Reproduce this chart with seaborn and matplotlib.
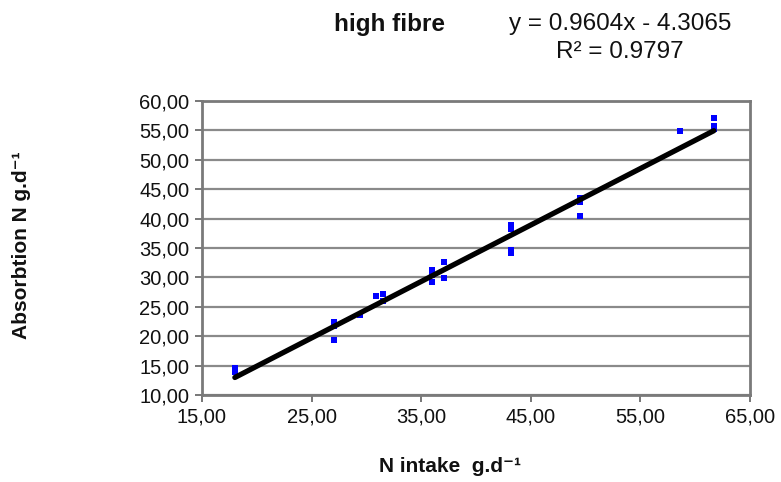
import matplotlib
matplotlib.use("Agg")
import matplotlib.pyplot as plt
import matplotlib.ticker as mticker
import numpy as np
import pandas as pd
import seaborn as sns

# Data
n_intake = [18.0, 18.0,
            27.0, 27.0, 27.0,
            29.4, 30.9, 31.5, 31.5,
            36.0, 36.0, 36.0,
            37.1, 37.1,
            43.2, 43.2, 43.2, 43.2,
            49.5, 49.5, 49.5,
            58.6,
            61.7, 61.7, 61.7]
absorption = [14.6, 13.9,
              22.5, 21.8, 19.3,
              23.6, 26.8, 27.2, 26.0,
              31.2, 30.4, 29.2,
              32.7, 29.9,
              38.9, 38.2, 34.7, 34.1,
              43.5, 42.9, 40.5,
              54.9,
              57.05, 55.75, 55.2]
slope = 0.9604
intercept = -4.3065
r2 = 0.9797
x_ticks = [15, 25, 35, 45, 55, 65]
y_ticks = [10, 15, 20, 25, 30, 35, 40, 45, 50, 55, 60]

sns.set_theme(style="white")
plt.rcParams['font.family'] = ['Liberation Sans', 'DejaVu Sans']

df = pd.DataFrame({"x": n_intake, "y": absorption})
fit_x = np.array([min(n_intake), max(n_intake)])
fit_df = pd.DataFrame({"x": fit_x, "y": slope * fit_x + intercept})

fig = plt.figure(figsize=(7.81, 4.82), dpi=100)
ax = fig.add_axes([202/781, 1-395/482, (750-202)/781, (395-101)/482])

sns.scatterplot(data=df, x="x", y="y", ax=ax, marker="s", s=22,
                color="#0000FF", edgecolor="#0000FF", linewidth=0, zorder=3)
sns.lineplot(data=fit_df, x="x", y="y", ax=ax, color="black", linewidth=3.8,
             zorder=4, solid_capstyle="round")

ax.set_xlim(15, 65)
ax.set_ylim(10, 60)
ax.set_xticks(x_ticks)
ax.set_yticks(y_ticks)
fmt = mticker.FuncFormatter(lambda v, p: f"{v:.2f}".replace(".", ","))
ax.xaxis.set_major_formatter(fmt)
ax.yaxis.set_major_formatter(fmt)
ax.tick_params(axis="both", labelsize=14.5, labelcolor="#111111", length=5,
               width=1.2, direction="out", bottom=True, left=True, pad=4,
               color="#606060")
ax.yaxis.grid(True, color="#8a8a8a", linewidth=1.6)
ax.xaxis.grid(False)
for s in ax.spines.values():
    s.set_color("#7a7a7a")
    s.set_linewidth(2)
ax.set_xlabel("")
ax.set_ylabel("")

fig.text(450/781, 1-467/482, "N intake  g.d\u207b\u00b9", ha="center", va="center",
         fontsize=15, fontweight="bold", color="#111111")
fig.text(22/781, 1-245/482, "Absorbtion N g.d\u207b\u00b9", ha="center", va="center",
         rotation=90, fontsize=15, fontweight="bold", color="#111111")
fig.text(390/781, 1-24/482, "high fibre", ha="center", va="center",
         fontsize=17.5, fontweight="bold", color="#111111")
fig.text(620/781, 1-24/482, f"y = {slope}x - {abs(intercept)}", ha="center", va="center",
         fontsize=17.5, color="#111111")
fig.text(620/781, 1-52/482, f"R\u00b2 = {r2}", ha="center", va="center",
         fontsize=17.5, color="#111111")

fig.savefig("out.png", dpi=100)
